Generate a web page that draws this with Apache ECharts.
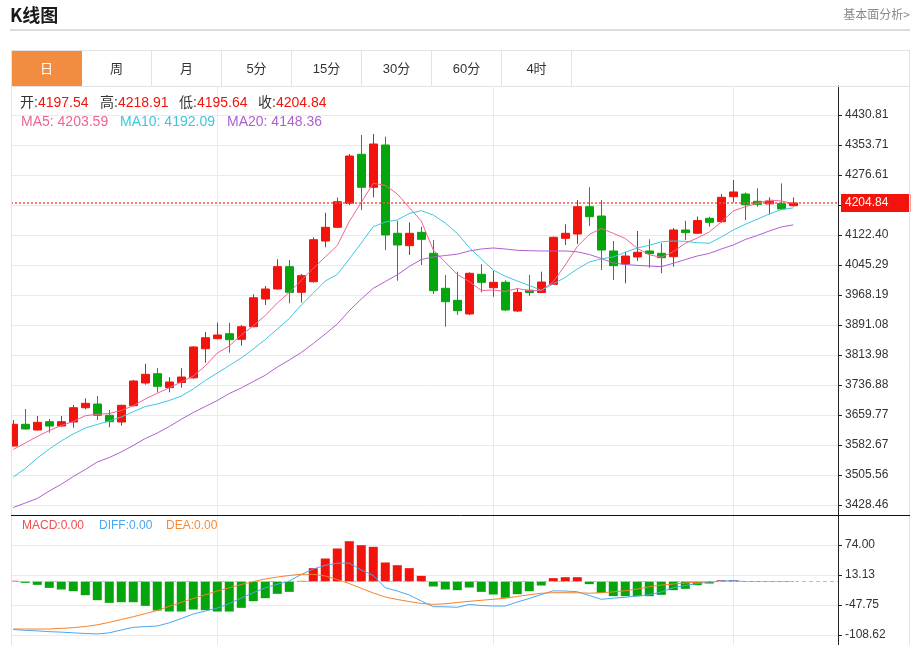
<!DOCTYPE html>
<html>
<head>
<meta charset="utf-8">
<script src="https://cdn.jsdelivr.net/npm/echarts@6/dist/echarts.min.js"></script>
<style>
html,body{margin:0;padding:0;background:#fff;width:916px;height:645px;overflow:hidden;}
#chart{position:absolute;left:0;top:0;width:916px;height:645px;}
.hd-title{position:absolute;left:10px;top:1px;font-family:"Noto Sans CJK SC",sans-serif;font-weight:bold;font-size:18px;color:#1a1a1a;line-height:26px;}
.hd-link{position:absolute;right:6px;top:5px;font-family:"Noto Sans CJK SC",sans-serif;font-size:12px;color:#8a8a8a;line-height:18px;}
.hd-rule{position:absolute;left:10px;top:29px;width:900px;height:2px;background:#dcdcdc;}
.tabs{position:absolute;left:11px;top:50px;width:897px;height:35px;border:1px solid #e3e3e3;}
.tab{position:absolute;top:0;width:69px;height:35px;line-height:35px;text-align:center;font-family:"Liberation Sans","Noto Sans CJK SC",sans-serif;font-size:13px;color:#333;border-right:1px solid #e3e3e3;}
.tab.on{background:#f28c40;color:#fff;border-right-color:#f28c40;}
</style>
</head>
<body>
<div id="chart"></div>
<div class="hd-title">K线图</div>
<div class="hd-link">基本面分析&gt;</div>
<div class="hd-rule"></div>
<div class="tabs" id="tabs"></div>
<script>
// ---- data ----
const tabNames = ['日','周','月','5分','15分','30分','60分','4时'];

const opens  = [3580.1,3635.9,3621.2,3642.6,3631.5,3641.8,3678.5,3688.0,3659.0,3641.8,
                3683.7,3742.0,3765.9,3730.1,3743.5,3755.2,3830.1,3855.9,3868.7,3854.3,
                3886.7,3957.9,3983.6,4041.0,3975.1,4002.4,4106.9,4142.2,4203.9,4329.8,
                4245.0,4353.7,4126.8,4094.9,4129.3,4075.4,3985.4,3954.6,3919.4,4021.4,
                3986.9,4000.8,3927.0,3980.6,3974.7,3995.6,4113.9,4124.9,4195.1,4171.2,
                4081.3,4047.9,4065.9,4081.3,4075.4,4066.6,4135.3,4126.9,4165.3,4156.6,
                4220.9,4227.7,4209.0,4202.4,4203.6,4197.54];
const closes = [3635.9,3623.8,3641.0,3631.5,3642.6,3678.5,3689.8,3659.0,3642.6,3684.7,
                3747.2,3764.4,3733.5,3744.6,3757.4,3834.6,3858.4,3865.4,3853.2,3886.7,
                3961.2,3983.6,4041.0,3975.1,4017.8,4110.3,4142.2,4208.0,4325.4,4245.0,
                4356.3,4122.4,4096.7,4126.8,4111.3,3979.3,3950.9,3927.9,4023.9,4000.8,
                4000.8,3929.7,3974.8,3974.7,4001.6,4116.5,4126.8,4195.1,4169.4,4083.8,
                4043.5,4068.4,4078.0,4074.4,4064.1,4135.3,4128.4,4159.5,4155.0,4219.3,
                4233.0,4200.3,4201.3,4209.3,4189.2,4204.84];
const lows   = [3579.5,3622.0,3620.0,3614.3,3630.0,3627.1,3674.4,3646.9,3628.1,3632.3,
                3682.0,3737.7,3718.1,3718.0,3730.1,3753.0,3794.1,3854.0,3820.0,3837.9,
                3885.0,3942.6,3982.0,3946.9,3948.6,4000.0,4090.8,4140.0,4199.5,4186.7,
                4219.3,4083.8,4004.9,4071.0,4045.3,3970.8,3886.7,3916.9,3916.9,3975.1,
                3963.8,3927.1,3925.0,3965.9,3973.0,3994.0,4096.7,4099.2,4145.5,4032.4,
                4006.7,3998.3,4055.7,4038.4,4024.0,4040.9,4109.6,4125.0,4143.7,4154.0,
                4206.5,4160.9,4195.1,4175.2,4187.4,4195.64];
const highs  = [3646.9,3675.2,3657.2,3649.5,3657.2,3685.5,3702.7,3708.6,3672.6,3686.0,
                3749.8,3791.6,3780.6,3757.4,3779.9,3836.0,3873.1,3897.0,3897.0,3891.1,
                3970.0,3991.3,4059.9,4058.1,4022.2,4116.5,4179.7,4218.3,4330.6,4379.4,
                4382.0,4375.1,4159.2,4155.0,4143.7,4109.6,4019.6,4028.1,4026.5,4047.1,
                4029.9,4006.0,3985.1,4019.6,4028.1,4118.0,4149.9,4212.3,4245.0,4212.3,
                4107.0,4079.5,4132.7,4111.4,4101.1,4140.4,4159.2,4169.8,4169.4,4227.8,
                4263.8,4231.8,4242.4,4219.3,4255.0,4218.91];

const ma5  = [3571.1,3587.8,3604.5,3619.9,3632.8,3643.1,3658.0,3661.6,3663.6,3671.3,
              3683.7,3700.9,3715.6,3729.9,3744.6,3760.0,3785.7,3819.1,3837.1,3865.4,
              3889.0,3915.5,3947.6,3975.1,4005.5,4036.8,4065.9,4095.4,4157.1,4206.4,
              4255.3,4250.1,4227.8,4193.1,4158.4,4083.8,4053.0,4020.9,4002.9,3979.8,
              3981.0,3977.2,3984.9,3979.2,3979.8,4002.4,4045.3,4092.8,4123.7,4139.1,
              4126.8,4113.4,4088.2,4071.5,4065.1,4079.5,4101.1,4114.7,4130.1,4155.8,
              4184.1,4195.1,4203.9,4212.4,4209.8,4203.59];
const ma10 = [3500.4,3522.3,3549.3,3572.4,3593.0,3611.0,3626.4,3635.4,3644.4,3654.6,
              3668.3,3681.6,3688.1,3697.0,3708.6,3726.6,3748.5,3767.7,3787.0,3806.3,
              3829.4,3853.8,3880.8,3907.8,3942.5,3973.3,4004.2,4020.9,4060.7,4101.8,
              4143.7,4155.8,4161.0,4177.7,4184.9,4173.8,4153.2,4126.3,4090.3,4060.7,
              4032.4,4016.3,4004.2,3992.6,3980.3,3996.5,4013.7,4035.0,4053.0,4061.2,
              4065.9,4077.9,4089.0,4095.9,4104.9,4107.0,4106.2,4102.6,4101.1,4117.3,
              4135.3,4149.9,4163.0,4176.4,4187.9,4192.09];
const ma20 = [3422.0,3433.6,3445.2,3464.5,3481.7,3501.7,3519.7,3539.0,3550.5,3564.7,
              3581.4,3599.4,3613.5,3630.2,3648.7,3666.2,3681.6,3697.0,3715.0,3729.2,
              3745.9,3761.8,3783.1,3801.1,3820.4,3843.5,3868.0,3893.7,3927.6,3957.9,
              3985.4,4002.9,4020.1,4041.4,4059.4,4065.9,4069.7,4073.1,4081.3,4086.4,
              4089.0,4086.4,4083.1,4082.1,4081.3,4081.3,4081.3,4079.2,4072.3,4062.0,
              4050.4,4046.6,4044.3,4042.7,4040.9,4049.7,4059.4,4068.4,4075.1,4086.4,
              4096.7,4110.8,4121.1,4132.7,4143.0,4148.36];

const macdBar = [1.5,-2.7,-6.8,-12.9,-16.2,-19.6,-27.7,-37.9,-43.3,-42.0,
                 -42.0,-49.4,-58.8,-60.9,-60.9,-56.8,-58.2,-60.9,-60.9,-53.4,
                 -39.9,-33.8,-25.0,-21.0,1.3,27.1,46.7,67.0,81.8,73.7,
                 70.3,38.6,33.1,27.1,11.5,-10.1,-16.2,-17.6,-12.2,-21.0,
                 -26.4,-33.1,-25.7,-19.6,-8.1,6.8,8.8,8.8,-5.4,-23.0,
                 -29.8,-29.8,-29.8,-29.8,-27.1,-17.6,-14.9,-7.4,-4.1,2.5,
                 2.5,0,0,0,0,0];
const diff = [-97.4,-99.0,-100.2,-101.7,-102.7,-104.1,-105.5,-106.3,-104.1,-98.4,
              -92.9,-91.5,-90.3,-83.8,-75.1,-65.9,-59.9,-54.0,-44.8,-33.5,
              -22.7,-12.8,-5.7,1.0,14.2,25.4,32.9,37.1,37.5,23.3,
              12.2,-12.6,-19.3,-27.4,-39.6,-51.1,-51.3,-52.3,-46.5,-48.7,
              -49.7,-49.7,-41.6,-34.5,-26.4,-18.9,-19.3,-20.7,-28.4,-36.1,
              -33.9,-31.9,-29.4,-26.8,-21.3,-12.6,-8.1,-4.1,-1.0,1.0,
              1.6,0,0,0,0,0];
const dea  = [-96.4,-96.4,-96.4,-96.4,-95.0,-93.7,-91.3,-87.9,-82.8,-77.1,
              -71.4,-65.1,-58.8,-50.3,-42.2,-34.5,-27.0,-19.3,-12.8,-6.1,
              0,5.1,9.1,12.2,14.6,14.6,11.2,4.1,-4.1,-13.8,
              -23.3,-31.4,-36.5,-40.6,-44.6,-46.3,-45.2,-42.6,-40.2,-38.1,
              -36.1,-33.9,-30.4,-26.8,-23.9,-22.7,-22.7,-22.9,-23.7,-22.9,
              -20.9,-18.7,-15.2,-10.6,-7.1,-5.1,-3.0,-1.4,-0.4,0,
              0,0,0,0,0,0];

const priceTicks  = [4430.81,4353.71,4276.61,4199.51,4122.40,4045.29,3968.19,3891.08,3813.98,3736.88,3659.77,3582.67,3505.56,3428.46];
const priceLabels = [4430.81,4353.71,4276.61,4122.40,4045.29,3968.19,3891.08,3813.98,3736.88,3659.77,3582.67,3505.56,3428.46];
const macdTicks   = [74.00,13.13,-47.75,-108.62];
const periodStarts = [17,40,60];

// ---- tabs ----
const tabsEl = document.getElementById('tabs');
tabNames.forEach((t,i)=>{
  const d = document.createElement('div');
  d.className = 'tab' + (i===0 ? ' on' : '');
  d.style.left = (i*70) + 'px';
  d.textContent = t;
  tabsEl.appendChild(d);
});

// ---- chart ----
const RED = '#f2140c', GREEN = '#05a60d';
const C5 = '#ef6494', C10 = '#3fc6e0', C20 = '#b05fce';
const FONT = '"Liberation Sans","Noto Sans CJK SC",sans-serif';
const GRIDC = '#e6ebf0';
const last = closes.length - 1;

const candles = opens.map((o,i)=>[i, o, closes[i], lows[i], highs[i]]);
const xy = arr => arr.map((v,i)=>[i,v]);

function legendItem(left, top, label, value, labelColor, valueColor, size){
  return {
    left, top, padding: 0,
    text: '{a|' + label + '}{b|' + value + '}',
    textStyle: { fontWeight: 'normal', rich: {
      a: {color: labelColor, fontSize: size, fontFamily: FONT, fontWeight: 'normal', lineHeight: size+2},
      b: {color: valueColor, fontSize: size, fontFamily: FONT, fontWeight: 'normal', lineHeight: size+2}
    }}
  };
}

const xMin = -0.19, xMax = xMin + 827/12;
function xAxisCfg(gi){
  return {
    type: 'value', gridIndex: gi, min: xMin, max: xMax,
    axisLine: {show: false, onZero: false}, axisLabel: {show: false},
    axisTick: {show: false, customValues: periodStarts},
    splitLine: {show: true, lineStyle: {color: GRIDC, width: 1}}
  };
}

const option = {
  animation: false,
  title: [
    legendItem(20, 95, '开:', opens[last].toFixed(2), '#333', RED, 14),
    legendItem(100, 95, '高:', highs[last].toFixed(2), '#333', RED, 14),
    legendItem(179, 95, '低:', lows[last].toFixed(2), '#333', RED, 14),
    legendItem(258, 95, '收:', closes[last].toFixed(2), '#333', RED, 14),
    legendItem(21, 114, 'MA5: ', ma5[last].toFixed(2), C5, C5, 14),
    legendItem(120, 114, 'MA10: ', ma10[last].toFixed(2), C10, C10, 14),
    legendItem(227, 114, 'MA20: ', ma20[last].toFixed(2), C20, C20, 14),
    legendItem(22, 519, 'MACD:', macdBar[last].toFixed(2), '#f04e4e', '#f04e4e', 12),
    legendItem(99, 519, 'DIFF:', diff[last].toFixed(2), '#4ca6f0', '#4ca6f0', 12),
    legendItem(166, 519, 'DEA:', dea[last].toFixed(2), '#f48a38', '#f48a38', 12)
  ],
  grid: [
    {left: 11, right: 78, top: 86, height: 430},
    {left: 11, right: 78, top: 516, height: 129}
  ],
  xAxis: [xAxisCfg(0), xAxisCfg(1)],
  yAxis: [
    {
      type: 'value', gridIndex: 0, position: 'right', min: 3400.2, max: 4505.34,
      axisLine: {show: true, onZero: false, lineStyle: {color: '#222'}},
      axisTick: {show: true, length: 4, customValues: priceTicks, lineStyle: {color: '#222'}},
      axisLabel: {customValues: priceLabels, color: '#333', fontSize: 12, fontFamily: FONT, margin: 7,
                  formatter: v => Number(v).toFixed(2)},
      splitLine: {show: true, lineStyle: {color: GRIDC, width: 1}}
    },
    {
      type: 'value', gridIndex: 1, position: 'right', min: -128.8, max: 132.9,
      axisLine: {show: true, onZero: false, lineStyle: {color: '#222'}},
      axisTick: {show: true, length: 4, customValues: macdTicks, lineStyle: {color: '#222'}},
      axisLabel: {customValues: macdTicks, color: '#333', fontSize: 12, fontFamily: FONT, margin: 7,
                  formatter: v => Number(v).toFixed(2)},
      splitLine: {show: true, lineStyle: {color: GRIDC, width: 1}}
    }
  ],
  series: [
    {
      type: 'candlestick', xAxisIndex: 0, yAxisIndex: 0, data: candles, barWidth: 9, clip: true,
      itemStyle: {color: RED, color0: GREEN, borderColor: RED, borderColor0: GREEN, borderWidth: 1},
      markLine: {
        silent: true, symbol: 'none', animation: false,
        data: [{yAxis: closes[last]}],
        lineStyle: {color: '#f5524a', type: [2,2], width: 1.5, opacity: 1},
        label: {show: true, position: 'end', distance: 3, formatter: () => closes[last].toFixed(2),
                color: '#fff', backgroundColor: RED, fontSize: 12, fontFamily: FONT,
                padding: [3, 22, 3, 4]}
      }
    },
    {type: 'line', xAxisIndex: 0, yAxisIndex: 0, data: xy(ma5), showSymbol: false, symbol: 'none',
     lineStyle: {color: C5, width: 1}, itemStyle: {color: C5}},
    {type: 'line', xAxisIndex: 0, yAxisIndex: 0, data: xy(ma10), showSymbol: false, symbol: 'none',
     lineStyle: {color: C10, width: 1}, itemStyle: {color: C10}},
    {type: 'line', xAxisIndex: 0, yAxisIndex: 0, data: xy(ma20), showSymbol: false, symbol: 'none',
     lineStyle: {color: C20, width: 1}, itemStyle: {color: C20}},
    {
      type: 'bar', xAxisIndex: 1, yAxisIndex: 1, barWidth: 9, clip: true,
      data: macdBar.map((v,i)=>({value: [i, v], itemStyle: {color: v >= 0 ? RED : GREEN}})),
      markLine: {
        silent: true, symbol: 'none', animation: false,
        data: [{yAxis: 0}],
        lineStyle: {color: '#93cbe3', type: [4,3], width: 1},
        label: {show: false}
      }
    },
    {type: 'line', xAxisIndex: 1, yAxisIndex: 1, data: xy(diff), showSymbol: false, symbol: 'none',
     lineStyle: {color: '#4ca6f0', width: 1}, itemStyle: {color: '#4ca6f0'}},
    {type: 'line', xAxisIndex: 1, yAxisIndex: 1, data: xy(dea), showSymbol: false, symbol: 'none',
     lineStyle: {color: '#f5812a', width: 1}, itemStyle: {color: '#f5812a'}}
  ],
  graphic: [
    {type: 'rect', z: 99, silent: true, shape: {x: 0, y: 86, width: 11, height: 559}, style: {fill: '#fff'}},
    {type: 'line', z: 100, shape: {x1: 11.5, y1: 86, x2: 11.5, y2: 645}, style: {stroke: '#e3e3e3', lineWidth: 1}},
    {type: 'line', z: 100, shape: {x1: 909.5, y1: 86, x2: 909.5, y2: 645}, style: {stroke: '#e3e3e3', lineWidth: 1}},
    {type: 'line', z: 100, shape: {x1: 11, y1: 515.5, x2: 910, y2: 515.5}, style: {stroke: '#111', lineWidth: 1}}
  ]
};

const chart = echarts.init(document.getElementById('chart'), null, {renderer: 'canvas'});
chart.setOption(option);
</script>
</body>
</html>
